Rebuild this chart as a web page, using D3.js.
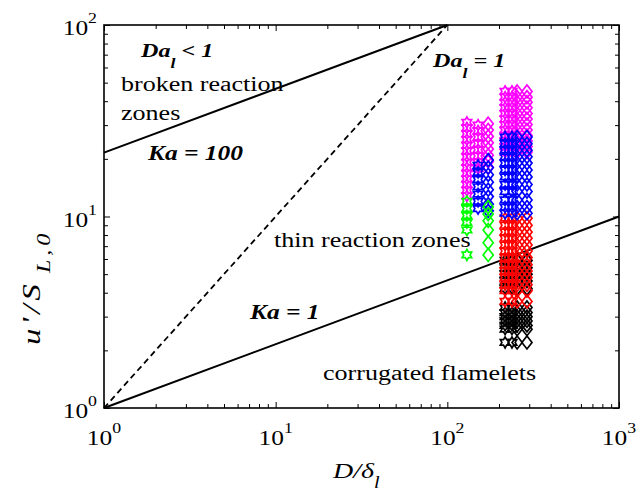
<!DOCTYPE html>
<html>
<head>
<meta charset="utf-8">
<script src="https://cdn.jsdelivr.net/npm/d3@7"></script>
<style>
  body { margin: 0; background: #fff; }
  svg { display: block; }
</style>
</head>
<body>
<div id="vis-container"></div>
<script>
// regime boundaries, in (D/delta_l, u'/S_L0)
const kaOneLine = [[1, 1], [1000, 10]];
const kaHundredLine = [[1, 21.54], [100, 100]];
const daOneLine = [[1, 1], [100, 100]];

const xTickValues = [1, 10, 100, 1000];
const xTickExps = ["0", "1", "2", "3"];
const yTickValues = [1, 10, 100];
const yTickExps = ["0", "1", "2"];

// D/delta_l of each column of runs
const leftStarX = [130];
const leftMidX = [151];
const leftDiamondX = [173];
const rightStarX = [217, 238];
const rightDiamondX = [255, 291];

// u'/S_L0 of the runs, per colour
const magentaLeftStar = [31, 29, 27, 25.2, 23.5, 22, 20.5, 19.2, 18, 16.8, 15.7, 14.7, 13.7, 12.8];
const magentaLeftMid = [30, 28, 26, 24, 22.3, 20.7, 19.2, 17.8];
const magentaLeftDiamond = [30.5, 28.3, 26.2, 24.3, 22.5, 20.9, 19.4, 18];
const blueLeftMid = [18.5, 17, 15.6, 14.3, 13.1, 12, 11];
const blueLeftDiamond = [19.7, 18, 16.5, 15.1, 13.8, 12.7, 11.6, 10.7];
const greenLeftStar = [12, 11, 10.1, 9.3, 8.5, 6.3];
const greenLeftDiamond = [11.2, 10.3, 9.5, 8.5, 7.3, 6.3];
const magentaRight = [45, 42, 39.5, 37, 34.5, 32.3, 30.2, 28.3, 26.5, 24.8, 23.2, 21.7];
const blueRight = [26, 24, 22.2, 20.5, 19, 17.5, 16.1, 14.7, 13.5, 12.2, 11.2, 10.4];
const redRight = [9.8, 9.0, 8.3, 7.7, 7.1, 6.6, 6.1, 5.6, 5.2, 4.8, 4.4, 4.1, 3.6];
const blackRight = [5.9, 5.4, 5.0, 4.6, 4.2, 3.35, 3.15, 3.0, 2.85, 2.7, 2.58, 2.2];

const width = 640, height = 491;
const margin = {top: 25, right: 21, bottom: 83, left: 104};
const stretch = 1.27; // text in the picture is drawn wide
const serif = "'Liberation Serif', 'Times New Roman', Times, serif";

let svg = d3.select("#vis-container")
  .append("svg")
  .attr("width", width)
  .attr("height", height)
  .style("font-family", serif);

let x = d3.scaleLog().domain([1, 1000]).range([margin.left, width - margin.right]);
let y = d3.scaleLog().domain([1, 100]).range([height - margin.bottom, margin.top]);

// marker shapes
const hexagram = {
  draw(ctx, r) {
    const ri = r / Math.sqrt(3);
    for (let i = 0; i < 12; i++) {
      const a = -Math.PI / 2 + i * Math.PI / 6;
      const rr = i % 2 === 0 ? r : ri;
      if (i === 0) ctx.moveTo(rr * Math.cos(a), rr * Math.sin(a));
      else ctx.lineTo(rr * Math.cos(a), rr * Math.sin(a));
    }
    ctx.closePath();
  }
};
const diamond = {
  draw(ctx, h) {
    const w = h * 0.78;
    ctx.moveTo(0, -h);
    ctx.lineTo(w, 0);
    ctx.lineTo(0, h);
    ctx.lineTo(-w, 0);
    ctx.closePath();
  }
};

// minor + major ticks on all four sides, pointing in
let minorX = [], minorY = [];
[1, 10, 100].forEach(d => { for (let k = 2; k <= 9; k++) minorX.push(d * k); });
[1, 10].forEach(d => { for (let k = 2; k <= 9; k++) minorY.push(d * k); });

const addAxis = (axis, tx, ty) => {
  let g = svg.append("g")
    .attr("transform", `translate(${tx},${ty})`)
    .call(axis.tickFormat(""));
  g.select(".domain").remove();
  g.selectAll("line").attr("stroke", "#000").attr("stroke-width", 1);
};
const B = height - margin.bottom, T = margin.top, L = margin.left, R = width - margin.right;
addAxis(d3.axisBottom(x).tickValues(minorX).tickSizeInner(-4).tickSizeOuter(0), 0, B);
addAxis(d3.axisBottom(x).tickValues(xTickValues).tickSizeInner(-6).tickSizeOuter(0), 0, B);
addAxis(d3.axisTop(x).tickValues(minorX).tickSizeInner(-4).tickSizeOuter(0), 0, T);
addAxis(d3.axisTop(x).tickValues(xTickValues).tickSizeInner(-6).tickSizeOuter(0), 0, T);
addAxis(d3.axisLeft(y).tickValues(minorY).tickSizeInner(-4).tickSizeOuter(0), L, 0);
addAxis(d3.axisLeft(y).tickValues(yTickValues).tickSizeInner(-6).tickSizeOuter(0), L, 0);
addAxis(d3.axisRight(y).tickValues(minorY).tickSizeInner(-4).tickSizeOuter(0), R, 0);
addAxis(d3.axisRight(y).tickValues(yTickValues).tickSizeInner(-6).tickSizeOuter(0), R, 0);

// regime lines
let line = d3.line().x(d => x(d[0])).y(d => y(d[1]));
svg.append("path").datum(kaOneLine)
  .attr("d", line).attr("fill", "none").attr("stroke", "#000").attr("stroke-width", 2);
svg.append("path").datum(kaHundredLine)
  .attr("d", line).attr("fill", "none").attr("stroke", "#000").attr("stroke-width", 2);
svg.append("path").datum(daOneLine)
  .attr("d", line).attr("fill", "none").attr("stroke", "#000").attr("stroke-width", 1.8)
  .attr("stroke-dasharray", "6,4");

// runs (black first so red lies on top of it)
const series = [
  {color: "#000000", shape: hexagram, size: 5.5, xs: rightStarX, ys: blackRight},
  {color: "#000000", shape: diamond, size: 6.5, xs: rightDiamondX, ys: blackRight},
  {color: "#ff0000", shape: hexagram, size: 5.5, xs: rightStarX, ys: redRight},
  {color: "#ff0000", shape: diamond, size: 6.5, xs: rightDiamondX, ys: redRight},
  {color: "#ff00ff", shape: hexagram, size: 5.5, xs: leftStarX, ys: magentaLeftStar},
  {color: "#ff00ff", shape: hexagram, size: 5.5, xs: leftMidX, ys: magentaLeftMid},
  {color: "#ff00ff", shape: diamond, size: 6.5, xs: leftDiamondX, ys: magentaLeftDiamond},
  {color: "#ff00ff", shape: hexagram, size: 5.5, xs: rightStarX, ys: magentaRight},
  {color: "#ff00ff", shape: diamond, size: 6.5, xs: rightDiamondX, ys: magentaRight},
  {color: "#0000ff", shape: hexagram, size: 5.5, xs: leftMidX, ys: blueLeftMid},
  {color: "#0000ff", shape: diamond, size: 6.5, xs: leftDiamondX, ys: blueLeftDiamond},
  {color: "#0000ff", shape: hexagram, size: 5.5, xs: rightStarX, ys: blueRight},
  {color: "#0000ff", shape: diamond, size: 6.5, xs: rightDiamondX, ys: blueRight},
  {color: "#00ff00", shape: hexagram, size: 5.5, xs: leftStarX, ys: greenLeftStar},
  {color: "#00ff00", shape: diamond, size: 6.5, xs: leftDiamondX, ys: greenLeftDiamond}
];

let points = [];
series.forEach(s => {
  s.xs.forEach(xv => {
    s.ys.forEach(yv => points.push({x: xv, y: yv, s: s}));
  });
});

svg.append("g")
  .selectAll("path")
  .data(points)
  .enter()
  .append("path")
    .attr("transform", d => `translate(${x(d.x)},${y(d.y)})`)
    .attr("d", d => d3.symbol().type(d.s.shape).size(d.s.size)())
    .attr("fill", "none")
    .attr("stroke", d => d.s.color)
    .attr("stroke-width", 1.7);

// frame
svg.append("rect")
  .attr("x", L).attr("y", T)
  .attr("width", R - L).attr("height", B - T)
  .attr("fill", "none").attr("stroke", "#000").attr("stroke-width", 1.6);

// tick labels 10^n
xTickValues.forEach((v, i) => {
  let t = svg.append("text")
    .attr("transform", `translate(${x(v)},${B + 37}) scale(${stretch},1)`)
    .attr("text-anchor", "middle")
    .attr("font-family", serif)
    .attr("font-size", 20);
  t.append("tspan").text("10");
  t.append("tspan").attr("font-size", 14).attr("dy", -12).text(xTickExps[i]);
});
yTickValues.forEach((v, i) => {
  let t = svg.append("text")
    .attr("transform", `translate(${L - 7},${y(v) + 10}) scale(${stretch},1)`)
    .attr("text-anchor", "end")
    .attr("font-family", serif)
    .attr("font-size", 20);
  t.append("tspan").text("10");
  t.append("tspan").attr("font-size", 14).attr("dy", -12).text(yTickExps[i]);
});

// plain labels inside the plot
const plainText = (tx, ty, str) => {
  svg.append("text")
    .attr("transform", `translate(${tx},${ty}) scale(${stretch},1)`)
    .attr("font-family", serif)
    .attr("font-size", 20.5)
    .text(str);
};
plainText(121, 91, "broken reaction");
plainText(121, 120, "zones");
plainText(274, 247, "thin reaction zones");
plainText(323, 380, "corrugated flamelets");

const boldText = (tx, ty, size, parts) => {
  let t = svg.append("text")
    .attr("transform", `translate(${tx},${ty}) scale(${stretch},1)`)
    .attr("font-family", serif)
    .attr("font-size", size)
    .attr("font-weight", "bold")
    .attr("font-style", "italic");
  parts.forEach(p => {
    let ts = t.append("tspan").text(p.t);
    if (p.sub) ts.attr("font-size", 14).attr("dy", 11);
    if (p.up) ts.attr("dy", -11);
  });
};
boldText(141, 57, 19, [{t: "Da"}, {t: "l", sub: true}, {t: " < 1", up: true}]);
boldText(433, 67, 19, [{t: "Da"}, {t: "l", sub: true}, {t: " = 1", up: true}]);
boldText(148, 160, 20, [{t: "Ka = 100"}]);
boldText(250, 319, 20, [{t: "Ka = 1"}]);

// axis titles
let xt = svg.append("text")
  .attr("transform", `translate(333,478) scale(${stretch},1)`)
  .attr("font-family", serif)
  .attr("font-size", 22)
  .attr("font-style", "italic");
xt.append("tspan").text("D/\u03b4");
xt.append("tspan").attr("font-size", 16).attr("dy", 10).text("l");

let yt = svg.append("text")
  .attr("transform", `translate(40,345) rotate(-90) scale(${stretch},1)`)
  .attr("font-family", serif)
  .attr("font-size", 26)
  .attr("font-style", "italic")
  .attr("letter-spacing", 3);
yt.append("tspan").text("u'/S");
yt.append("tspan").attr("font-size", 19).attr("dy", 10).attr("dx", 6).text("L,0");
</script>
</body>
</html>
